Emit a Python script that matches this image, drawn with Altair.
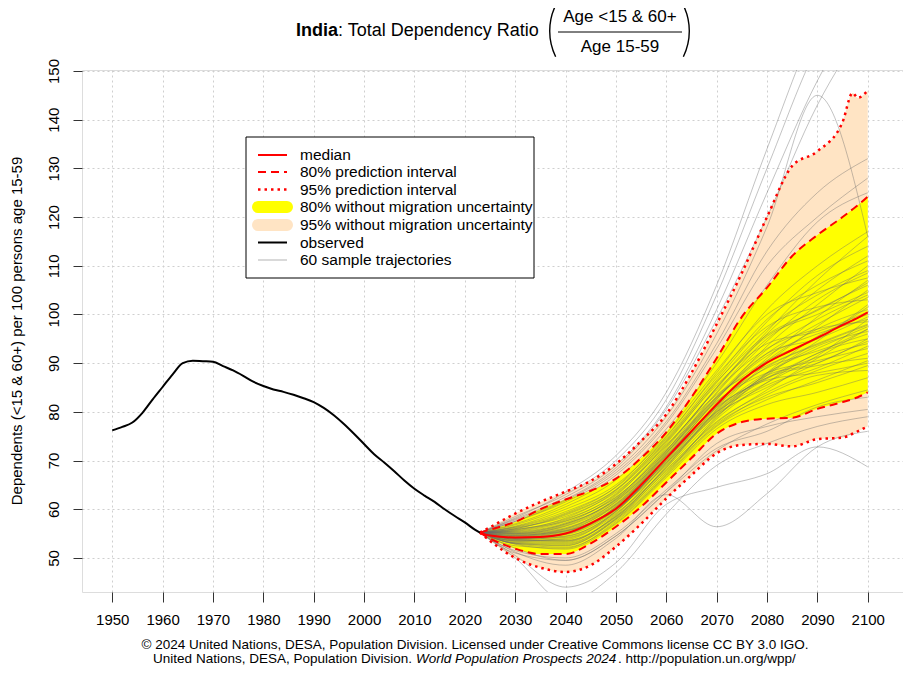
import math
import altair as alt
import pandas as pd

FONT = "Liberation Sans"

# ---------------- data ----------------
obs_years = [1950, 1952, 1954, 1956, 1958, 1960, 1962, 1964, 1966, 1968, 1970, 1972, 1974,
             1976, 1978, 1980, 1982, 1984, 1986, 1988, 1990, 1992, 1994, 1996, 1998, 2000,
             2002, 2004, 2006, 2008, 2010, 2012, 2014, 2016, 2018, 2020, 2022, 2023]
obs_values = [76.2, 76.9, 77.8, 79.8, 82.5, 85.1, 87.7, 90.0, 90.5, 90.4, 90.3, 89.4, 88.5,
              87.4, 86.2, 85.3, 84.6, 84.1, 83.5, 82.8, 82.0, 80.8, 79.3, 77.5, 75.5, 73.4,
              71.3, 69.6, 67.8, 65.9, 64.2, 62.8, 61.5, 60.0, 58.6, 57.3, 55.8, 55.2]

proj_years = [2023, 2025, 2030, 2035, 2040, 2045, 2050, 2055, 2060, 2065, 2070, 2075,
              2080, 2085, 2090, 2095, 2097, 2098, 2100]
median = [55.2, 54.6, 54.2, 54.3, 55.0, 57.1, 60.1, 65.0, 70.5, 76.0, 81.5, 86.5,
          90.1, 92.7, 95.2, 97.8, 98.8, 99.3, 100.4]
lo80 = [55.2, 54.0, 51.9, 50.8, 50.8, 53.0, 56.4, 60.5, 65.5, 70.5, 75.5, 77.9,
        78.6, 78.8, 80.6, 82.0, 82.6, 83.0, 84.0]
hi80 = [55.2, 55.8, 57.4, 60.0, 62.0, 63.8, 66.3, 70.5, 75.8, 83.0, 91.0, 99.5,
        105.5, 112.0, 116.3, 120.0, 121.6, 122.4, 124.2]
lo95 = [55.2, 53.5, 50.0, 48.0, 47.1, 48.5, 52.3, 57.0, 62.2, 67.0, 71.5, 73.2,
        73.4, 72.9, 74.4, 74.7, 75.5, 76.0, 77.0]
hi95 = [55.2, 56.3, 59.1, 61.5, 63.6, 65.8, 69.3, 74.0, 79.5, 88.0, 98.0, 108.5,
        120.0, 130.5, 133.5, 139.5, 145.5, 144.5, 146.0]

traj_years = [2023, 2030, 2040, 2050, 2060, 2070, 2080, 2090, 2100]
traj_start = 55.2
trajectories = [
    [54.0, 54.5, 59.5, 70.0, 80.5, 88.0, 93.0, 97.5],
    [55.5, 57.5, 62.5, 72.0, 84.0, 95.0, 101.0, 106.0],
    [53.0, 52.5, 58.0, 68.0, 78.0, 84.0, 88.5, 92.0],
    [56.0, 59.0, 64.0, 74.0, 86.5, 98.5, 108.0, 114.0],
    [54.5, 55.5, 60.0, 69.0, 79.5, 87.5, 90.0, 95.0],
    [52.5, 52.0, 57.5, 67.0, 77.5, 83.0, 86.0, 89.5],
    [55.0, 56.5, 61.5, 71.5, 83.0, 92.0, 98.0, 103.5],
    [53.5, 54.0, 59.0, 69.5, 81.0, 90.5, 97.0, 101.0],
    [56.5, 60.0, 65.0, 75.0, 88.0, 101.0, 110.0, 117.0],
    [54.0, 55.0, 60.5, 71.0, 82.0, 89.0, 92.5, 96.0],
    [52.8, 51.8, 57.0, 66.5, 76.5, 81.5, 84.0, 87.0],
    [55.2, 57.0, 62.0, 72.5, 85.0, 95.5, 100.0, 104.5],
    [54.8, 56.0, 61.0, 70.5, 80.0, 86.0, 91.5, 99.0],
    [53.8, 53.5, 58.5, 68.5, 79.0, 88.0, 95.5, 100.0],
    [56.2, 58.5, 63.5, 73.0, 84.5, 93.0, 97.0, 98.5],
    [53.2, 53.0, 58.2, 68.8, 80.2, 87.0, 89.5, 91.0],
    [55.8, 58.0, 63.0, 73.5, 86.0, 97.0, 104.0, 109.0],
    [54.2, 55.2, 60.0, 70.0, 81.5, 91.0, 99.5, 107.0],
    [53.6, 53.8, 59.5, 70.2, 80.8, 86.5, 88.0, 90.0],
    [55.4, 57.2, 62.8, 73.2, 83.5, 89.5, 94.0, 98.0],
    [54.6, 55.8, 60.8, 70.8, 82.5, 93.5, 102.0, 110.0],
    [52.9, 52.2, 57.2, 66.8, 77.0, 82.5, 86.5, 90.5],
    [56.4, 59.5, 64.5, 74.5, 87.0, 99.0, 106.0, 111.0],
    [54.1, 54.8, 59.8, 69.8, 80.0, 87.8, 94.5, 102.0],
    [55.6, 57.8, 63.2, 73.8, 85.5, 94.0, 96.5, 100.5],
    [53.4, 53.2, 58.8, 69.2, 79.5, 85.0, 90.0, 94.5],
    [54.9, 56.2, 61.2, 71.2, 82.8, 91.5, 96.0, 99.0],
    [53.9, 54.2, 59.2, 68.2, 77.8, 84.5, 91.0, 97.0],
    [55.1, 56.8, 62.2, 72.8, 84.8, 96.0, 105.0, 112.0],
    [54.3, 55.4, 60.4, 70.4, 81.2, 89.2, 93.8, 97.8],
    [53.1, 52.8, 58.0, 67.5, 78.5, 86.0, 92.0, 95.0],
    [56.0, 58.8, 64.0, 74.8, 87.5, 97.5, 101.5, 103.0],
    [54.7, 55.6, 60.2, 69.6, 79.2, 85.5, 89.0, 93.5],
    [55.3, 57.0, 62.0, 71.8, 83.2, 92.8, 99.0, 104.0],
    [53.7, 53.6, 58.6, 68.6, 80.4, 90.0, 97.5, 105.0],
    [54.4, 55.6, 61.0, 71.6, 82.2, 88.0, 90.5, 93.0],
    [55.7, 58.2, 63.8, 74.2, 86.2, 95.8, 100.8, 106.5],
    [53.5, 53.4, 58.4, 67.8, 77.2, 83.5, 87.5, 88.5],
    [54.0, 54.9, 60.6, 71.4, 83.8, 94.5, 103.0, 108.5],
    [55.9, 57.6, 62.4, 72.2, 83.0, 90.5, 95.0, 101.5],
    [53.0, 52.6, 57.8, 67.2, 78.8, 87.5, 93.5, 96.5],
    [54.6, 56.0, 61.6, 72.0, 85.0, 96.5, 107.0, 116.0],
    [55.0, 56.6, 61.8, 71.0, 81.0, 87.0, 92.0, 97.0],
    [53.8, 54.4, 59.6, 70.6, 82.6, 92.0, 95.0, 99.5],
    [56.3, 59.2, 64.6, 75.5, 88.5, 100.0, 104.5, 107.5],
    [54.2, 55.0, 59.9, 69.4, 79.8, 86.8, 91.2, 94.0],
    [57.0, 61.0, 67.0, 77.5, 93.0, 110.0, 120.0, 128.0],
    [57.5, 61.5, 67.5, 78.0, 94.0, 113.0, 125.0, 132.0],
    [56.8, 60.5, 66.0, 76.5, 90.0, 106.0, 119.0, 125.0],
    [58.0, 62.5, 69.0, 81.0, 101.0, 125.0, 148.0, 165.0],
    [58.5, 63.0, 70.0, 82.5, 104.0, 130.0, 155.0, 170.0],
    [57.8, 62.0, 68.5, 80.5, 99.0, 120.0, 143.0, 160.0],
    [58.2, 63.5, 71.0, 84.0, 106.0, 134.0, 160.0, 175.0],
    [57.5, 61.8, 68.0, 79.0, 96.0, 118.0, 145.0, 116.0],
    [51.0, 49.5, 54.5, 63.5, 73.5, 77.0, 79.0, 80.5],
    [51.5, 50.0, 55.0, 64.0, 72.5, 76.0, 81.0, 83.0],
    [50.5, 44.0, 49.0, 61.0, 64.5, 67.3, 72.8, 68.7],
    [51.2, 48.5, 54.0, 63.0, 56.4, 63.2, 72.8, 76.0],
    [50.0, 41.0, 47.0, 59.0, 69.0, 73.5, 77.0, 79.0],
    [52.0, 49.5, 54.5, 63.5, 72.0, 77.5, 81.5, 84.5],
]

x_ticks = list(range(1950, 2101, 10))
y_ticks = list(range(50, 151, 10))

legend_labels = ["median", "80% prediction interval", "95% prediction interval",
                 "80% without migration uncertainty", "95% without migration uncertainty",
                 "observed", "60 sample trajectories"]

title_bold = "India"
title_rest = ": Total Dependency Ratio"
frac_top = "Age <15 & 60+"
frac_bottom = "Age 15-59"
y_title = "Dependents (<15 & 60+) per 100 persons age 15-59"
footer1 = "\u00a9 2024 United Nations, DESA, Population Division. Licensed under Creative Commons license CC BY 3.0 IGO."
footer2a = "United Nations, DESA, Population Division."
footer2b = "World Population Prospects 2024"
footer2c = ". http://population.un.org/wpp/"

# ---------------- tables ----------------
obs_df = pd.DataFrame({"year": obs_years, "value": obs_values})
band_df = pd.DataFrame({"year": proj_years, "median": median, "lo80": lo80, "hi80": hi80,
                        "lo95": lo95, "hi95": hi95})
rows = []
for i, tr in enumerate(trajectories):
    vals = [traj_start] + tr
    for yr, v in zip(traj_years, vals):
        rows.append({"id": i, "year": yr, "value": v})
traj_df = pd.DataFrame(rows)
one = pd.DataFrame({"k": [0]})

# ---------------- layout ----------------
PAD_L, PAD_T = 74, 62
W, H = 821, 522
OX, OY = 8 + PAD_L, 8 + PAD_T  # page coordinates of plot origin

xscale = alt.Scale(domain=[1944, 2107], nice=False, zero=False)
yscale = alt.Scale(domain=[43.0, 150.2], nice=False, zero=False)

x_axis = alt.Axis(values=x_ticks, format="d", title=None, grid=True, gridColor="#cfcfcf",
                  gridDash=[2, 3], gridWidth=1, tickSize=10, tickColor="#333333", tickWidth=1,
                  domain=False, labelFontSize=15, labelFont=FONT, labelColor="black",
                  labelPadding=10, labelBaseline="top")
y_axis = alt.Axis(values=y_ticks, format="d", title=None, grid=True, gridColor="#cfcfcf",
                  gridDash=[2, 3], gridWidth=1, tickSize=9, tickColor="#333333", tickWidth=1,
                  domain=False, labelFontSize=15, labelFont=FONT, labelColor="black",
                  labelAngle=270, labelAlign="center", labelBaseline="middle", labelPadding=20)

X = lambda f: alt.X(f, type="quantitative", scale=xscale, axis=x_axis)
Y = lambda f: alt.Y(f, type="quantitative", scale=yscale, axis=y_axis)

band95 = alt.Chart(band_df).mark_area(color="#FFE4C4", interpolate="monotone", opacity=1).encode(
    x=X("year"), y=Y("lo95"), y2=alt.Y2("hi95"))
band80 = alt.Chart(band_df).mark_area(color="#FFFF00", interpolate="monotone", opacity=1).encode(
    x=X("year"), y=Y("lo80"), y2=alt.Y2("hi80"))
traj = alt.Chart(traj_df).mark_line(color="#6a6a6a", opacity=0.4, strokeWidth=1,
                                    interpolate="monotone", clip=True).encode(
    x=X("year"), y=Y("value"), detail="id:N")


def band_line(field, dash, width):
    kw = dict(color="#FF0000", strokeWidth=width, interpolate="monotone", clip=True)
    if dash:
        kw["strokeDash"] = dash
    return alt.Chart(band_df).mark_line(**kw).encode(x=X("year"), y=Y(field))


l95a = band_line("lo95", [2.5, 4], 2.5)
l95b = band_line("hi95", [2.5, 4], 2.5)
l80a = band_line("lo80", [8, 5], 2)
l80b = band_line("hi80", [8, 5], 2)
lmed = band_line("median", None, 2)
obs = alt.Chart(obs_df).mark_line(color="black", strokeWidth=2, interpolate="monotone").encode(
    x=X("year"), y=Y("value"))


def T(text, x, y, size=15, align="left", weight="normal", style="normal", angle=None,
      baseline="middle"):
    kw = dict(text=text, align=align, baseline=baseline, fontSize=size, fontWeight=weight,
              font=FONT, color="black")
    if style != "normal":
        kw["fontStyle"] = style
    if angle is not None:
        kw["angle"] = angle
    return alt.Chart(one).mark_text(**kw).encode(x=alt.value(x - OX), y=alt.value(y - OY))


def R(x1, x2, y, color, width, dash=None, cap="butt"):
    kw = dict(color=color, strokeWidth=width, strokeCap=cap)
    if dash:
        kw["strokeDash"] = dash
    return alt.Chart(one).mark_rule(**kw).encode(
        x=alt.value(x1 - OX), x2=alt.value(x2 - OX), y=alt.value(y - OY))


def paren(edge_x, cy, height, bulge, left=True):
    # thin circular arc drawn as a tall bracket
    rad = ((height / 2) ** 2 + bulge ** 2) / (2 * bulge)
    half = math.asin((height / 2) / rad)
    if left:
        cx = edge_x + rad
        mid = 1.5 * math.pi
    else:
        cx = edge_x - rad
        mid = 0.5 * math.pi
    return alt.Chart(one).mark_arc(color="black").encode(
        x=alt.value(cx - OX), y=alt.value(cy - OY),
        theta=alt.value(mid - half), theta2=alt.value(mid + half),
        radius=alt.value(rad), radius2=alt.value(rad - 1.4))


# legend
LX1, LX2, LTX = 258, 287, 300
LY = [155, 172, 189.5, 207, 225, 242.5, 260]
legend_box = alt.Chart(one).mark_rect(fill="white", stroke="black", strokeWidth=1).encode(
    x=alt.value(246 - OX), x2=alt.value(534 - OX), y=alt.value(137 - OY), y2=alt.value(278 - OY))
legend_layers = [
    legend_box,
    R(LX1, LX2, LY[0], "#FF0000", 2),
    R(LX1, LX2, LY[1], "#FF0000", 2, [8, 5]),
    R(LX1, LX2, LY[2], "#FF0000", 2.5, [2.5, 4]),
    R(LX1, LX2, LY[3], "#FFFF00", 12, cap="round"),
    R(LX1, LX2, LY[4], "#FFE4C4", 12, cap="round"),
    R(LX1, LX2, LY[5], "black", 2),
    R(LX1, LX2, LY[6], "#cccccc", 1.5),
] + [T(lbl, LTX, yy, size=15.5) for lbl, yy in zip(legend_labels, LY)]

# titles & notes
text_layers = [
    T(title_bold, 338, 31, size=18, align="right", weight="bold"),
    T(title_rest, 338, 31, size=18, align="left"),
    paren(549, 31, 52, 6, left=True),
    T(frac_top, 620, 17, size=17, align="center"),
    R(558, 682, 32, "black", 1),
    T(frac_bottom, 620, 47, size=17, align="center"),
    paren(690, 31, 52, 6, left=False),
    T(y_title, 17, 331, size=15, align="center", angle=270),
    T(footer1, 475, 645, size=13.5, align="center"),
    T(footer2a, 412, 659, size=13.5, align="right"),
    T(footer2b, 416, 659, size=13.5, align="left", style="italic"),
    T(footer2c, 618, 659, size=13.5, align="left"),
]

chart = alt.layer(
    band95, band80, traj, l95a, l95b, l80a, l80b, lmed, obs,
    *legend_layers, *text_layers
).properties(
    width=W, height=H,
    padding={"left": PAD_L, "top": PAD_T, "right": 0, "bottom": 75},
    autosize=alt.AutoSizeParams(type="none"),
).configure_view(stroke="#333333", strokeWidth=1.5).configure(background="white")

chart.save("out.html", embed_options={"renderer": "svg", "actions": False})
